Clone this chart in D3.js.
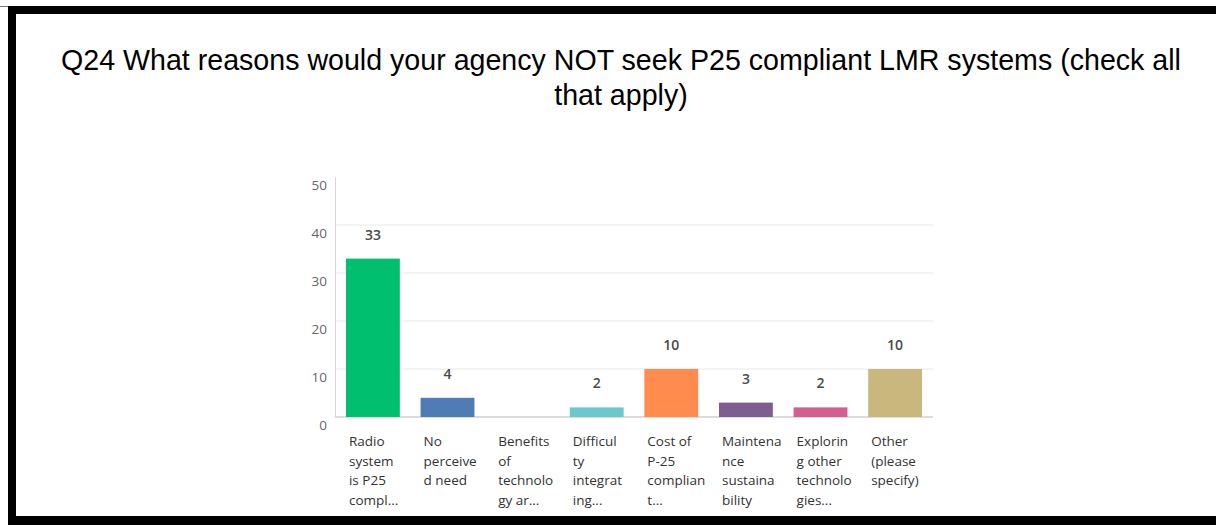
<!DOCTYPE html>
<html>
<head>
<meta charset="utf-8">
<script src="https://cdn.jsdelivr.net/npm/d3@7/dist/d3.min.js"></script>
<style>
  html, body { margin: 0; padding: 0; background: #fff; }
  svg { display: block; }
</style>
</head>
<body>
<svg id="chart" width="1216" height="525"></svg>
<script>
// Survey answers for Q24, one entry per response option
const categories = [
  ["Radio", "system", "is P25", "compl..."],
  ["No", "perceive", "d need"],
  ["Benefits", "of", "technolo", "gy ar..."],
  ["Difficul", "ty", "integrat", "ing..."],
  ["Cost of", "P-25", "complian", "t..."],
  ["Maintena", "nce", "sustaina", "bility"],
  ["Explorin", "g other", "technolo", "gies..."],
  ["Other", "(please", "specify)"]
];
const responses = [33, 4, 0, 2, 10, 3, 2, 10];
const barColors = ["#00BF6F", "#507CB6", "#F9BE00", "#6BC8CD", "#FF8B4F", "#7D5E90", "#D25F90", "#C9B77D"];
const yTicks = [0, 10, 20, 30, 40, 50];
const titleLines = [
  "Q24 What reasons would your agency NOT seek P25 compliant LMR systems (check all",
  "that apply)"
];

const svg = d3.select("#chart");

// Page frame
svg.append("rect").attr("x", 0).attr("y", 6).attr("width", 1216).attr("height", 1).attr("fill", "#777");
svg.append("rect").attr("x", 8).attr("y", 6).attr("width", 1208).attr("height", 8).attr("fill", "#000");
svg.append("rect").attr("x", 8).attr("y", 6).attr("width", 8).attr("height", 519).attr("fill", "#000");
svg.append("rect").attr("x", 8).attr("y", 516).attr("width", 1208).attr("height", 9).attr("fill", "#000");

// Title
svg.append("g")
  .selectAll("text")
  .data(titleLines)
  .join("text")
  .attr("x", 621)
  .attr("y", (d, i) => 70 + i * 35)
  .attr("text-anchor", "middle")
  .attr("font-family", "'Liberation Sans', Arial, sans-serif")
  .attr("font-size", 28.6)
  .attr("fill", "#000")
  .text(d => d);

// Plot area
const plotLeft = 335, plotRight = 933, plotTop = 177, plotBottom = 417;

const x = d3.scaleBand()
  .domain(d3.range(categories.length))
  .range([plotLeft, plotRight])
  .paddingInner(0.278)
  .paddingOuter(0.147);

const y = d3.scaleLinear().domain([0, 50]).range([plotBottom, plotTop]);

// Gridlines (none at the top value)
svg.append("g")
  .selectAll("line")
  .data(yTicks.filter(t => t > 0 && t < 50))
  .join("line")
  .attr("x1", plotLeft).attr("x2", plotRight)
  .attr("y1", d => y(d)).attr("y2", d => y(d))
  .attr("stroke", "#e9e9e9").attr("stroke-width", 1);

// Y axis
const yAxis = svg.append("g")
  .attr("transform", `translate(${plotLeft},0)`)
  .call(d3.axisLeft(y).tickValues(yTicks).tickSize(0).tickPadding(8));
yAxis.select(".domain").attr("stroke", "#d6d6d6");
yAxis.selectAll("text")
  .attr("font-family", "'Open Sans', sans-serif")
  .attr("font-size", 13.5)
  .attr("fill", "#666")
  .attr("transform", "translate(0,8)");

// Baseline
svg.append("line")
  .attr("x1", plotLeft).attr("x2", plotRight)
  .attr("y1", plotBottom).attr("y2", plotBottom)
  .attr("stroke", "#d0d0d0").attr("stroke-width", 1.5);

// Bars
svg.append("g")
  .selectAll("rect")
  .data(responses)
  .join("rect")
  .attr("x", (d, i) => x(i))
  .attr("width", x.bandwidth())
  .attr("y", d => y(d))
  .attr("height", d => y(0) - y(d))
  .attr("fill", (d, i) => barColors[i]);

// Value labels
svg.append("g")
  .selectAll("text")
  .data(responses.map((v, i) => ({ v, i })).filter(d => d.v > 0))
  .join("text")
  .attr("x", d => x(d.i) + x.bandwidth() / 2)
  .attr("y", d => y(d.v) - 19)
  .attr("text-anchor", "middle")
  .attr("font-family", "'Open Sans', sans-serif")
  .attr("font-weight", 600)
  .attr("font-size", 14)
  .attr("fill", "#4a4a4a")
  .text(d => d.v);

// Category labels
const catG = svg.append("g")
  .selectAll("text")
  .data(categories)
  .join("text")
  .attr("x", (d, i) => x(i) + 3)
  .attr("y", 446)
  .attr("font-family", "'Open Sans', sans-serif")
  .attr("font-size", 13.5)
  .attr("fill", "#333");
catG.selectAll("tspan")
  .data(d => d)
  .join("tspan")
  .attr("x", function () { return d3.select(this.parentNode).attr("x"); })
  .attr("dy", (d, i) => i === 0 ? 0 : 19.5)
  .text(d => d);
</script>
</body>
</html>
